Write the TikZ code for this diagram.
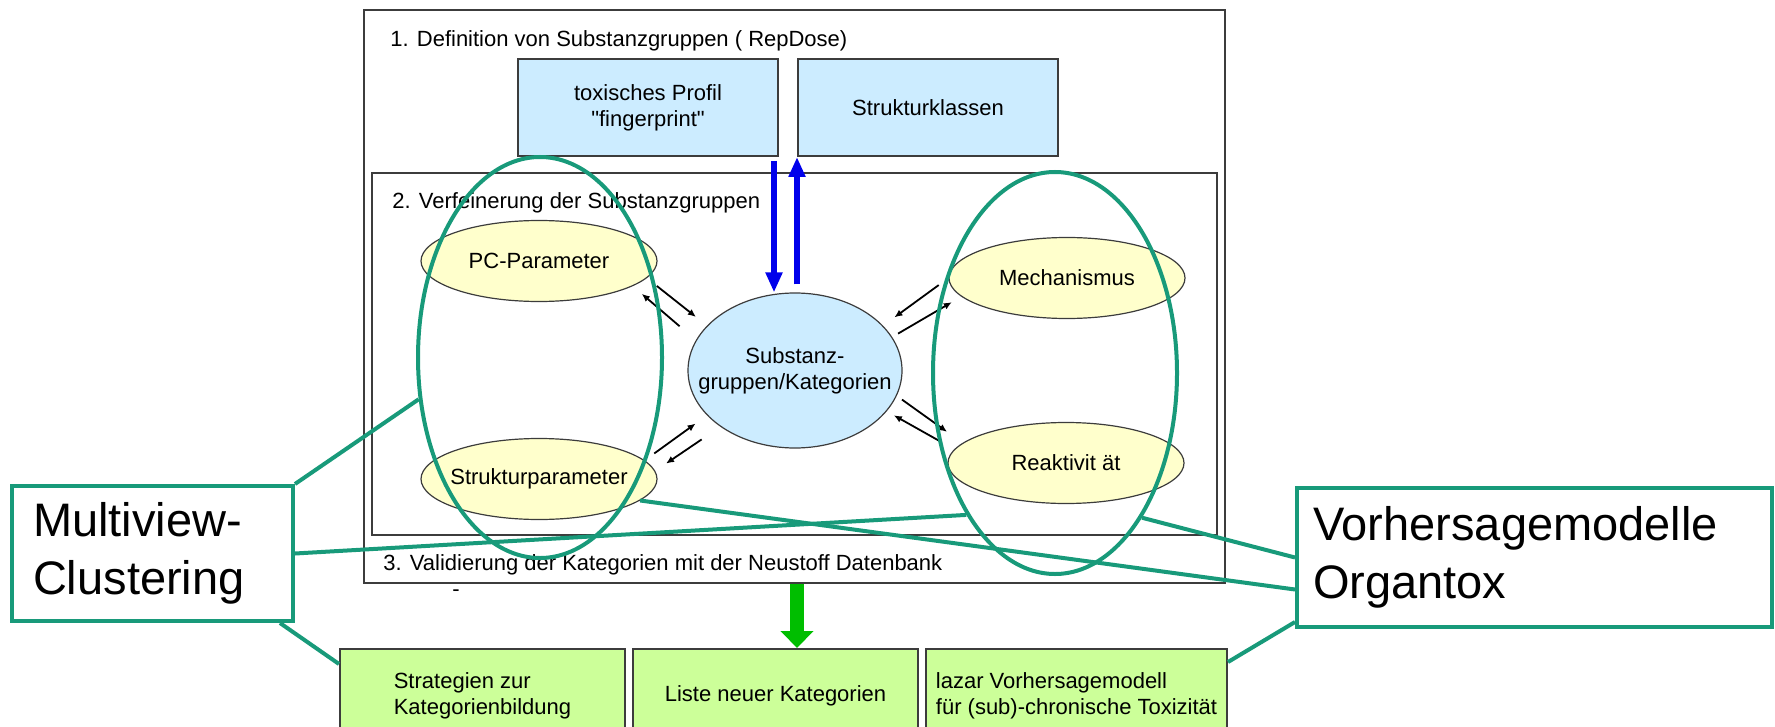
\documentclass[tikz,border=0pt]{standalone}
\usepackage{fontspec}
\setmainfont{Liberation Sans}[Ligatures=TeXOff]
\usetikzlibrary{arrows.meta,shapes.geometric,calc}
\definecolor{hullgreen}{RGB}{24,154,122}
\definecolor{boxblue}{RGB}{204,236,255}
\definecolor{ovalyellow}{RGB}{255,255,204}
\definecolor{boxgreen}{RGB}{204,255,153}
\definecolor{framegray}{RGB}{60,60,60}
\definecolor{arrowblue}{RGB}{0,0,235}
\definecolor{arrowgreen}{RGB}{0,190,0}

\begin{document}
\begin{tikzpicture}[x=0.5pt,y=-0.5pt]
			\tikzstyle{every node}+=[inner sep=0pt, font=\fontsize{11}{13}\selectfont]
			\tikzstyle{frame}=[draw=framegray, line width=1pt, rectangle]
			\tikzstyle{stagebox}=[frame, fill=boxblue, minimum width=130pt, minimum height=48.5pt, align=center]
			\tikzstyle{factor}=[draw=framegray, line width=0.6pt, ellipse, fill=ovalyellow, inner xsep=-20pt, minimum width=118pt, minimum height=40.5pt]
			\tikzstyle{resultbox}=[frame, fill=boxgreen, minimum height=47pt, align=left]
			\tikzstyle{hull}=[draw=hullgreen, line width=2pt, ellipse, minimum width=122pt]
			\tikzstyle{labelbox}=[draw=hullgreen, line width=2pt, fill=white, font=\fontsize{23.5}{29}\selectfont, align=left]
			\tikzstyle{leader}=[draw=hullgreen, line width=2pt]
			\tikzstyle{pairarrow}=[draw=black, line width=0.9pt, -{Latex[length=4pt,width=3.5pt]}]
			\tikzstyle{feed}=[draw=arrowblue, line width=3pt, -{Triangle[length=10pt,width=8pt]}]
			\tikzstyle{output}=[draw=arrowgreen, line width=7pt, -{Triangle[length=8.5pt,width=16pt]}]
			\useasboundingbox (0,0) rectangle (1775,727);
			\clip (0,0) rectangle (1775,727);
			% stage 1
			\node [frame, minimum width=430.5pt, minimum height=286.5pt] (stage1) at (794.5,296.5) {};
			\node [anchor=base west] (title1) at (390,47) {1. Definition von Substanzgruppen ( RepDose)};
			\node [stagebox] (tox) at (648,107.5) {toxisches Profil\\"fingerprint"};
			\node [stagebox] (strukkl) at (928,107.5) {Strukturklassen};
			% stage 2
			\node [frame, minimum width=422.5pt, minimum height=181pt] (stage2) at (794.5,354) {};
			\node [anchor=base west] (title2) at (392,208) {2. Verfeinerung der Substanzgruppen};
			\node [draw=framegray, line width=0.6pt, ellipse, fill=boxblue, inner xsep=-20pt, minimum width=107pt, minimum height=77.5pt, align=center] (sub) at (795,370.5) {Substanz-\\gruppen/Kategorien};
			\node [factor] (pc) at (539,261) {PC-Parameter};
			\node [factor] (mech) at (1067,278) {Mechanismus};
			\node [factor] (strukp) at (539,479) {Strukturparameter};
			\node [factor] (reakt) at (1066,463) {Reaktivit ät};
			% stage 3
			\node [anchor=base west] (title3) at (383,570) {3. Validierung der Kategorien mit der Neustoff Datenbank};
			\node (dash) at (456,593) {-};
			\node [resultbox, minimum width=142.5pt] (strat) at (482.5,696) {Strategien zur\\Kategorienbildung};
			\node [resultbox, minimum width=142.5pt] (liste) at (775.5,696) {Liste neuer Kategorien};
			\node [resultbox, minimum width=150.5pt] (lazar) at (1076.5,696) {lazar Vorhersagemodell\\für (sub)-chronische Toxizität};
			% feedback arrows
			\draw [feed] ([shift={(-5,4)}]tox.south east) -- ($(sub.north -| tox.south east)+(-5,0)$);
			\draw [feed, shorten <=4pt] (sub.north -| strukkl.south west) -- (strukkl.south west);
			\draw [output] (stage1.south -| strukkl.south west) -- (liste.north -| strukkl.south west);
			\draw [pairarrow, shorten <=6.3pt, shorten >=7pt] (pc.351.6) -- (sub.153.2);
			\draw [pairarrow, shorten <=10.7pt, shorten >=5.9pt] (sub.163.4) -- (pc.345.6);
			\draw [pairarrow, shorten <=6pt, shorten >=7pt] (mech.180) -- (sub.27.8);
			\draw [pairarrow, shorten <=3.4pt, shorten >=5.5pt] (sub.19.6) -- (mech.190.1);
			\draw [pairarrow, shorten <=3.2pt, shorten >=9.5pt] (sub.346.9) -- (reakt.169.1);
			\draw [pairarrow, shorten <=7.8pt, shorten >=4.1pt] (reakt.173.9) -- (sub.336.1);
			\draw [pairarrow, shorten <=5.9pt, shorten >=7pt] (strukp.10.6) -- (sub.207);
			\draw [pairarrow, shorten <=11.3pt, shorten >=6.5pt] (sub.217.7) -- (strukp.4.5);
			% overlay
			\node [hull, minimum height=200.5pt] (lefthull) at (540,357.5) {};
			\node [hull, minimum height=201pt] (righthull) at (1055,373) {};
			\node [labelbox, minimum width=140.5pt, minimum height=67.5pt, inner xsep=10.5pt, text width=119.5pt] (mvc) at (152.5,553.5) {Multiview-\\Clustering};
			\node [labelbox, minimum width=237.5pt, minimum height=69.5pt, inner xsep=8pt, text width=221.5pt] (vm) at (1534.5,557.5) {Vorhersagemodelle\\Organtox};
			\draw [leader] (mvc.north east) -- (lefthull.199);
			\draw [leader] (mvc.east) -- (righthull.238.5);
			\draw [leader] ([xshift=-7.5pt]mvc.south east) -- ([yshift=-8pt]strat.north west);
			\draw [leader] (vm.west) -- (righthull.301.4);
			\draw [leader] ([yshift=-16pt]vm.west) -- (strukp.348);
			\draw [leader] ([yshift=3.5pt]vm.south west) -- ([yshift=-7pt]lazar.north east);
		\end{tikzpicture}
\end{document}
